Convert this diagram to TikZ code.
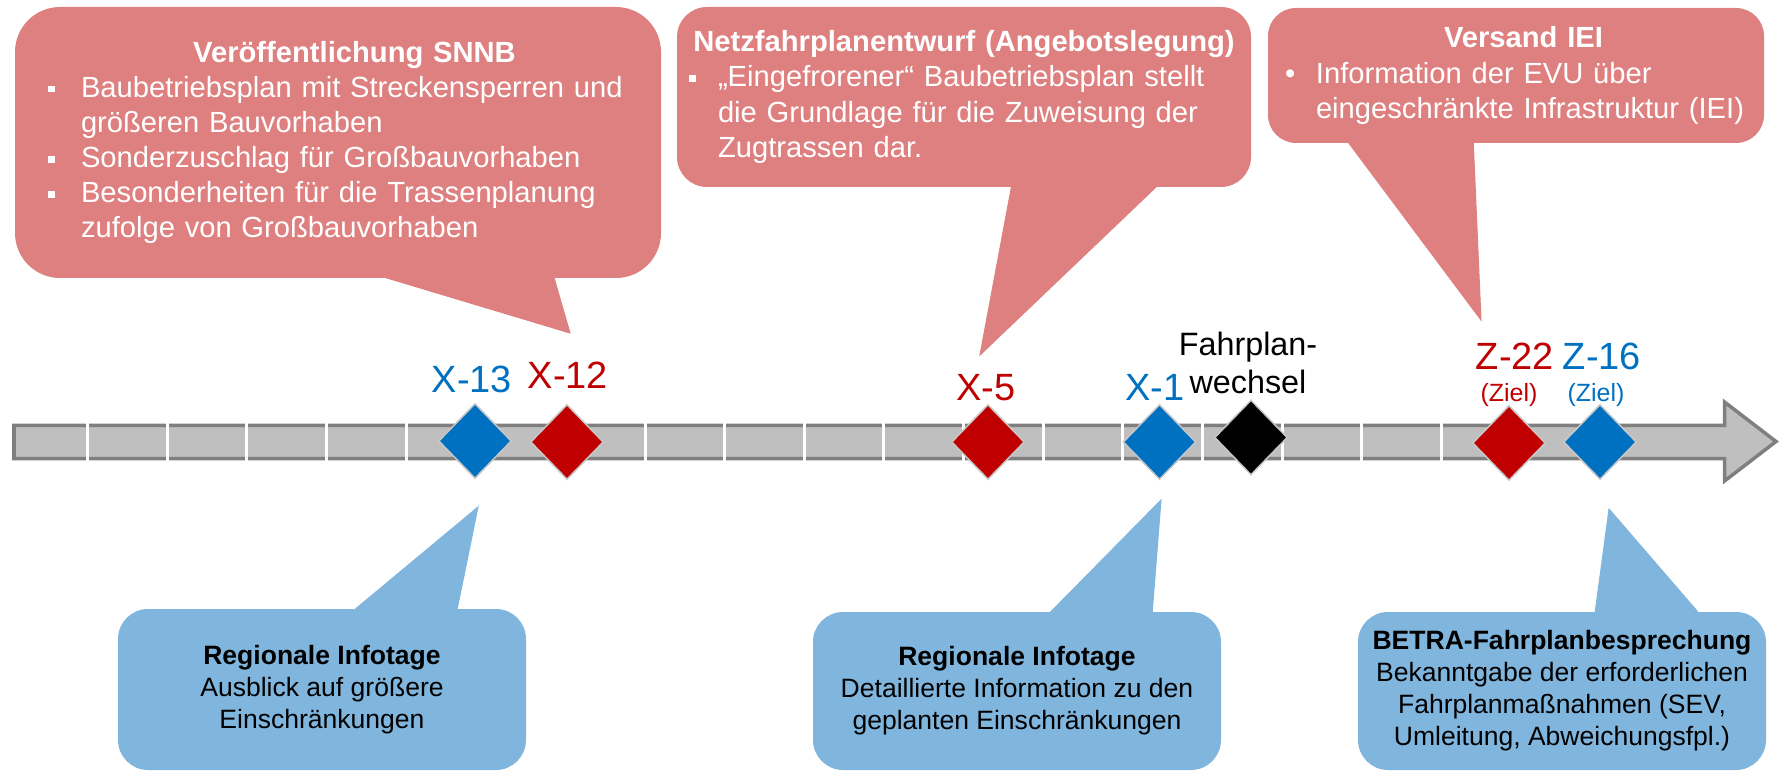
\documentclass[tikz,border=0pt]{standalone}
\usepackage{fontspec}
\setmainfont{Liberation Sans}
\usetikzlibrary{shapes.geometric,calc}

\definecolor{dbRed}{HTML}{C00000}
\definecolor{dbBlue}{HTML}{0070C0}
\definecolor{calloutRedFill}{HTML}{DE8080}
\definecolor{calloutBlueFill}{HTML}{80B6DE}
\definecolor{barDark}{HTML}{7F7F7F}
\definecolor{barLight}{HTML}{BFBFBF}

\newcommand{\sqbullet}{\raisebox{0.05cm}{\rule{0.065cm}{0.065cm}}}
\newcommand{\calltitle}[2]{\noindent\hspace*{#1}\makebox[\dimexpr\hsize-#1\relax][c]{\bfseries #2}\par}
\newcommand{\callitem}[3]{\noindent\hangindent=#1\hangafter=1\makebox[#1][l]{#2}#3\par}

\begin{document}
\begin{tikzpicture}[calloutRed/.style={rectangle, rounded corners=0.3cm, fill=calloutRedFill, text=white, inner sep=0pt, font=\fontsize{8.3}{10}\selectfont\raggedright},
calloutBlue/.style={rectangle, rounded corners=0.3cm, fill=calloutBlueFill, text=black, inner sep=0pt, align=center, minimum width=4.08cm, font=\fontsize{7.55}{9.1}\selectfont},
tailRed/.style={fill=calloutRedFill, draw=calloutRedFill, line width=0.01cm},
tailBlue/.style={fill=calloutBlueFill, draw=calloutBlueFill, line width=0.01cm},
milestoneA/.style={diamond, draw=black!22, line width=0.015cm, inner sep=0pt, minimum width=0.73cm, minimum height=0.75cm},
labelA/.style={anchor=base, inner sep=0pt, font=\fontsize{10.8}{13}\selectfont},
labelB/.style={anchor=base, inner sep=0pt, font=\fontsize{7.1}{8.5}\selectfont}]

\useasboundingbox (0, 0) rectangle (17.80, 7.73);

\draw[fill=barLight, draw=barDark, line width=0.035cm] (0.14, 3.4775) -- (17.245, 3.4775) -- (17.245, 3.71) -- (17.76, 3.315) -- (17.245, 2.92) -- (17.245, 3.1425) -- (0.14, 3.1425) -- cycle;
\foreach \k in {0,...,18}
  \draw[white, line width=0.03cm] ({0.875+0.7965*\k}, 3.11) -- ({0.875+0.7965*\k}, 3.51);

\node[milestoneA, fill=dbBlue](xThirteen) at (4.75, 3.32) {};
\node[milestoneA, fill=dbRed](xTwelve) at (5.67, 3.31) {};
\node[milestoneA, fill=dbRed](xFive) at (9.88, 3.31) {};
\node[milestoneA, fill=dbBlue](xOne) at (11.595, 3.31) {};
\node[milestoneA, fill=black](change) at (12.51, 3.355) {};
\node[milestoneA, fill=dbRed](zTwentyTwo) at (15.09, 3.30) {};
\node[milestoneA, fill=dbBlue](zSixteen) at (16.00, 3.31) {};

\node[labelA, text=dbBlue](xThirteenLabel) at (4.72, 3.80) {X-13};
\node[labelA, text=dbRed](xTwelveLabel) at (5.68, 3.85) {X-12};
\node[labelA, text=dbRed](xFiveLabel) at (9.86, 3.73) {X-5};
\node[labelA, text=dbBlue](xOneLabel) at (11.55, 3.73) {X-1};
\node[inner sep=0pt, align=center, font=\fontsize{9.2}{10.8}\selectfont](changeLabel) at (12.48, 4.105) {Fahrplan-\\wechsel};
\node[labelA, text=dbRed](zTwentyTwoLabel) at (15.15, 4.03) {Z-22};
\node[labelA, text=dbBlue](zSixteenLabel) at (16.02, 4.03) {Z-16};
\node[labelB, text=dbRed](zTwentyTwoGoal) at (15.09, 3.71) {(Ziel)};
\node[labelB, text=dbBlue](zSixteenGoal) at (15.96, 3.71) {(Ziel)};

\node[calloutRed, rounded corners=0.45cm, minimum width=6.46cm, minimum height=2.71cm, text width=5.80cm](snnb) at (3.38, 6.305) {%
\calltitle{0.33cm}{Veröffentlichung SNNB}
\callitem{0.33cm}{\sqbullet}{Baubetriebsplan mit Streckensperren und\newline größeren Bauvorhaben}
\callitem{0.33cm}{\sqbullet}{Sonderzuschlag für Großbauvorhaben}
\callitem{0.33cm}{\sqbullet}{Besonderheiten für die Trassenplanung\newline zufolge von Großbauvorhaben}};
\node[calloutRed, minimum width=5.74cm, minimum height=1.80cm, text width=5.50cm](draft) at (9.64, 6.76) {%
\calltitle{0cm}{Netzfahrplanentwurf (Angebotslegung)}
\callitem{0.29cm}{\sqbullet}{„Eingefrorener“ Baubetriebsplan stellt\newline die Grundlage für die Zuweisung der\newline Zugtrassen dar.}};
\node[calloutRed, rounded corners=0.28cm, minimum width=4.96cm, minimum height=1.35cm, text width=4.62cm](iei) at (15.16, 6.975) {%
\calltitle{0.15cm}{Versand IEI}
\callitem{0.31cm}{\textbullet}{Information der EVU über\newline eingeschränkte Infrastruktur (IEI)}};

\coordinate (snnbTip) at (5.70, 4.40);
\coordinate (draftTip) at (9.80, 4.18);
\coordinate (ieiTip) at (14.81, 4.53);
\filldraw[tailRed] (snnbTip) -- ($(snnb.south west)+(3.75, 0)$) -- ($(snnb.south west)+(5.40, 0)$) -- cycle;
\filldraw[tailRed] (draftTip) -- ($(draft.south west)+(3.35, 0)$) -- ($(draft.south west)+(4.79, 0)$) -- cycle;
\filldraw[tailRed] (ieiTip) -- ($(iei.south west)+(0.82, 0)$) -- ($(iei.south west)+(2.06, 0)$) -- cycle;

\node[calloutBlue, minimum height=1.61cm](infoOne) at (3.22, 0.835) {\textbf{Regionale Infotage}\\Ausblick auf größere\\Einschränkungen};
\node[calloutBlue, minimum height=1.58cm](infoTwo) at (10.17, 0.82) {\textbf{Regionale Infotage}\\Detaillierte Information zu den\\geplanten Einschränkungen};
\node[calloutBlue, minimum height=1.58cm](betra) at (15.62, 0.82) {\textbf{BETRA-Fahrplanbesprechung}\\Bekanntgabe der erforderlichen\\Fahrplanmaßnahmen (SEV,\\Umleitung, Abweichungsfpl.)};

\coordinate (infoOneTip) at (4.78, 2.66);
\coordinate (infoTwoTip) at (11.61, 2.73);
\coordinate (betraTip) at (16.09, 2.64);
\filldraw[tailBlue] (infoOneTip) -- ($(infoOne.north west)+(2.39, 0)$) -- ($(infoOne.north west)+(3.40, 0)$) -- cycle;
\filldraw[tailBlue] (infoTwoTip) -- ($(infoTwo.north west)+(2.39, 0)$) -- ($(infoTwo.north west)+(3.40, 0)$) -- cycle;
\filldraw[tailBlue] (betraTip) -- ($(betra.north west)+(2.38, 0)$) -- ($(betra.north west)+(3.40, 0)$) -- cycle;

\end{tikzpicture}
\end{document}
